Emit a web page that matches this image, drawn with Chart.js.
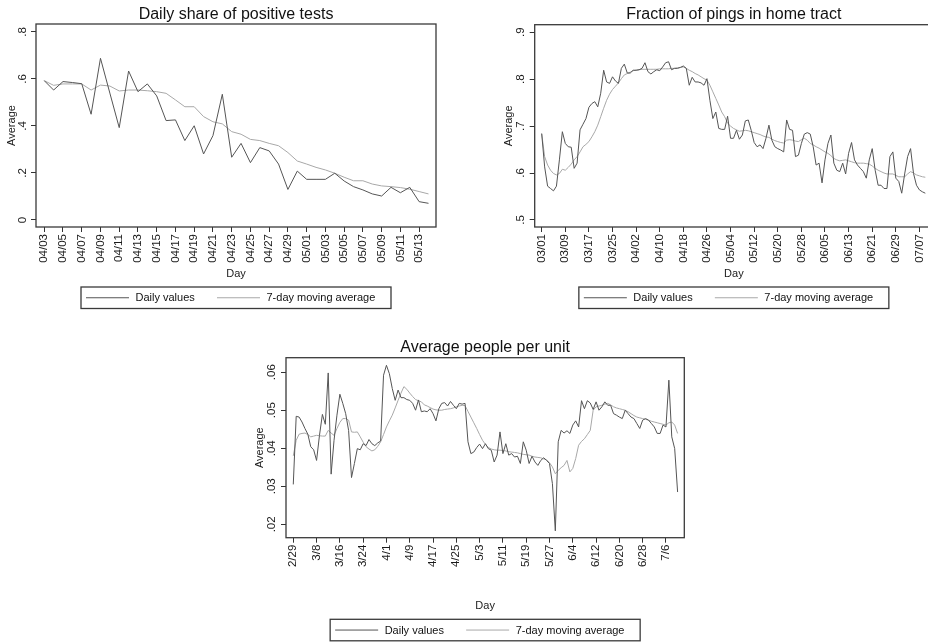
<!DOCTYPE html>
<html>
<head>
<meta charset="utf-8">
<script src="https://cdn.jsdelivr.net/npm/chart.js@4.4.1/dist/chart.umd.min.js"></script>
<style>
  html, body { margin: 0; padding: 0; background: #fff; overflow: hidden; width: 928px; height: 643px; }
  canvas { position: absolute; }
  #posChart { left: 0; top: 0; }
  #homeChart { left: 465px; top: 0; }
  #unitChart { left: 230px; top: 315px; }
</style>
</head>
<body>
<canvas id="posChart" width="462" height="312"></canvas>
<canvas id="homeChart" width="480" height="312"></canvas>
<canvas id="unitChart" width="480" height="328"></canvas>
<script>
// Daily share of positive tests, 04/03 - 05/14
const posDaily = [0.593, 0.553, 0.589, 0.585, 0.580, 0.450, 0.688, 0.540, 0.393, 0.634,
  0.546, 0.579, 0.528, 0.423, 0.426, 0.338, 0.401, 0.281, 0.359, 0.535,
  0.267, 0.326, 0.244, 0.308, 0.294, 0.238, 0.130, 0.208, 0.173, 0.173,
  0.173, 0.199, 0.166, 0.142, 0.128, 0.111, 0.102, 0.139, 0.116, 0.139,
  0.078, 0.071];
const posAvg = [0.593, 0.573, 0.579, 0.579, 0.579, 0.553, 0.574, 0.570, 0.549, 0.553,
  0.553, 0.550, 0.546, 0.539, 0.511, 0.482, 0.482, 0.440, 0.418, 0.409,
  0.376, 0.365, 0.343, 0.338, 0.326, 0.316, 0.287, 0.251, 0.238, 0.224,
  0.213, 0.199, 0.182, 0.167, 0.167, 0.153, 0.145, 0.142, 0.138, 0.131,
  0.121, 0.111];
const posDays = ['04/03', '04/05', '04/07', '04/09', '04/11', '04/13', '04/15', '04/17', '04/19', '04/21',
  '04/23', '04/25', '04/27', '04/29', '05/01', '05/03', '05/05', '05/07', '05/09', '05/11', '05/13'];
const posYTicks = [0, 0.2, 0.4, 0.6, 0.8];
const posYLabels = ['0', '.2', '.4', '.6', '.8'];

// Fraction of pings in home tract, 03/01 - 07/09
const homeDaily = [0.684, 0.613, 0.572, 0.567, 0.562, 0.572, 0.628, 0.688, 0.663, 0.656,
  0.655, 0.610, 0.621, 0.692, 0.704, 0.716, 0.740, 0.748, 0.752, 0.741,
  0.770, 0.819, 0.794, 0.791, 0.805, 0.796, 0.791, 0.823, 0.832, 0.813,
  0.813, 0.819, 0.819, 0.820, 0.823, 0.835, 0.816, 0.811, 0.816, 0.820,
  0.818, 0.826, 0.835, 0.837, 0.820, 0.823, 0.823, 0.825, 0.828, 0.823,
  0.787, 0.804, 0.794, 0.794, 0.792, 0.787, 0.801, 0.755, 0.716, 0.730,
  0.695, 0.693, 0.693, 0.721, 0.674, 0.674, 0.691, 0.672, 0.681, 0.711,
  0.713, 0.691, 0.665, 0.656, 0.660, 0.652, 0.674, 0.702, 0.670, 0.656,
  0.652, 0.649, 0.645, 0.713, 0.693, 0.691, 0.635, 0.638, 0.663, 0.683,
  0.686, 0.683, 0.656, 0.617, 0.621, 0.579, 0.628, 0.663, 0.681, 0.621,
  0.606, 0.603, 0.621, 0.598, 0.642, 0.665, 0.628, 0.617, 0.610, 0.603,
  0.589, 0.628, 0.652, 0.606, 0.574, 0.574, 0.567, 0.567, 0.635, 0.645,
  0.589, 0.582, 0.557, 0.598, 0.635, 0.652, 0.599, 0.574, 0.564, 0.560,
  0.557];
const homeAvg = [0.684, 0.635, 0.617, 0.606, 0.599, 0.596, 0.599, 0.608, 0.606, 0.612,
  0.619, 0.628, 0.635, 0.645, 0.656, 0.661, 0.667, 0.677, 0.688, 0.702,
  0.720, 0.738, 0.755, 0.768, 0.778, 0.785, 0.792, 0.801, 0.809, 0.812,
  0.815, 0.818, 0.819, 0.820, 0.821, 0.821, 0.821, 0.821, 0.821, 0.821,
  0.822, 0.822, 0.822, 0.822, 0.823, 0.823, 0.824, 0.825, 0.826, 0.823,
  0.819, 0.816, 0.812, 0.809, 0.805, 0.801, 0.798, 0.787, 0.773, 0.759,
  0.745, 0.730, 0.720, 0.706, 0.700, 0.695, 0.692, 0.689, 0.690, 0.691,
  0.690, 0.688, 0.686, 0.684, 0.682, 0.679, 0.677, 0.676, 0.672, 0.669,
  0.667, 0.665, 0.664, 0.670, 0.671, 0.670, 0.668, 0.667, 0.671, 0.674,
  0.670, 0.663, 0.660, 0.656, 0.653, 0.649, 0.645, 0.642, 0.637, 0.631,
  0.628, 0.626, 0.627, 0.628, 0.626, 0.624, 0.622, 0.621, 0.621, 0.621,
  0.620, 0.619, 0.615, 0.610, 0.606, 0.603, 0.600, 0.598, 0.598, 0.598,
  0.595, 0.592, 0.592, 0.592, 0.598, 0.603, 0.600, 0.596, 0.594, 0.592,
  0.591];
const homeDays = ['03/01', '03/09', '03/17', '03/25', '04/02', '04/10', '04/18', '04/26', '05/04',
  '05/12', '05/20', '05/28', '06/05', '06/13', '06/21', '06/29', '07/07'];
const homeYTicks = [0.5, 0.6, 0.7, 0.8, 0.9];
const homeYLabels = ['.5', '.6', '.7', '.8', '.9'];

// Average people per unit, 2/29 - 7/10
const unitDaily = [0.0305, 0.0484, 0.0482, 0.0469, 0.0452, 0.0437, 0.0404, 0.0396, 0.0368, 0.0434,
  0.0489, 0.0463, 0.0598, 0.0332, 0.0421, 0.0487, 0.0542, 0.0518, 0.0491, 0.0447,
  0.0323, 0.0360, 0.0399, 0.0396, 0.0412, 0.0407, 0.0423, 0.0412, 0.0407, 0.0414,
  0.0419, 0.0592, 0.0618, 0.0596, 0.0557, 0.0526, 0.0553, 0.0533, 0.0533, 0.0528,
  0.0526, 0.0518, 0.0500, 0.0527, 0.0496, 0.0498, 0.0496, 0.0504, 0.0491, 0.0472,
  0.0504, 0.0518, 0.0520, 0.0511, 0.0523, 0.0513, 0.0504, 0.0518, 0.0516, 0.0518,
  0.0417, 0.0386, 0.0390, 0.0402, 0.0411, 0.0399, 0.0412, 0.0399, 0.0395, 0.0364,
  0.0382, 0.0443, 0.0386, 0.0412, 0.0382, 0.0386, 0.0377, 0.0379, 0.0360, 0.0417,
  0.0395, 0.0360, 0.0379, 0.0364, 0.0355, 0.0368, 0.0375, 0.0368, 0.0360, 0.0307,
  0.0183, 0.0417, 0.0447, 0.0440, 0.0446, 0.0439, 0.0461, 0.0472, 0.0456, 0.0525,
  0.0504, 0.0525, 0.0519, 0.0502, 0.0522, 0.0500, 0.0509, 0.0522, 0.0513, 0.0513,
  0.0491, 0.0487, 0.0482, 0.0478, 0.0500, 0.0491, 0.0482, 0.0478, 0.0465, 0.0452,
  0.0474, 0.0478, 0.0474, 0.0465, 0.0456, 0.0439, 0.0439, 0.0461, 0.0456, 0.0579,
  0.0430, 0.0399, 0.0285];
const unitAvg = [0.0380, 0.0421, 0.0437, 0.0439, 0.0440, 0.0436, 0.0430, 0.0432, 0.0434, 0.0433,
  0.0432, 0.0432, 0.0447, 0.0440, 0.0434, 0.0452, 0.0468, 0.0478, 0.0478, 0.0474,
  0.0443, 0.0442, 0.0443, 0.0430, 0.0416, 0.0404, 0.0398, 0.0393, 0.0396, 0.0405,
  0.0417, 0.0436, 0.0456, 0.0472, 0.0487, 0.0506, 0.0526, 0.0545, 0.0562, 0.0555,
  0.0545, 0.0536, 0.0528, 0.0525, 0.0522, 0.0514, 0.0511, 0.0507, 0.0503, 0.0501,
  0.0500, 0.0500, 0.0502, 0.0503, 0.0504, 0.0506, 0.0509, 0.0511, 0.0513, 0.0512,
  0.0497, 0.0482, 0.0467, 0.0452, 0.0436, 0.0421, 0.0410, 0.0402, 0.0398, 0.0396,
  0.0395, 0.0395, 0.0394, 0.0393, 0.0391, 0.0390, 0.0389, 0.0388, 0.0386, 0.0384,
  0.0383, 0.0382, 0.0379, 0.0377, 0.0376, 0.0375, 0.0372, 0.0370, 0.0362, 0.0351,
  0.0333, 0.0342, 0.0349, 0.0355, 0.0368, 0.0338, 0.0347, 0.0373, 0.0408, 0.0418,
  0.0425, 0.0436, 0.0447, 0.0500, 0.0509, 0.0511, 0.0513, 0.0516, 0.0518, 0.0514,
  0.0509, 0.0506, 0.0504, 0.0502, 0.0500, 0.0496, 0.0491, 0.0486, 0.0482, 0.0480,
  0.0478, 0.0476, 0.0474, 0.0471, 0.0469, 0.0467, 0.0465, 0.0463, 0.0461, 0.0467,
  0.0469, 0.0461, 0.0439];
const unitDays = ['2/29', '3/8', '3/16', '3/24', '4/1', '4/9', '4/17', '4/25', '5/3',
  '5/11', '5/19', '5/27', '6/4', '6/12', '6/20', '6/28', '7/6'];
const unitYTicks = [0.02, 0.03, 0.04, 0.05, 0.06];
const unitYLabels = ['.02', '.03', '.04', '.05', '.06'];

const seriesNames = ['Daily values', '7-day moving average'];

const FONT = '"Liberation Sans", Arial, Helvetica, sans-serif';
Chart.defaults.font.family = FONT;
Chart.defaults.color = '#1a1a1a';

// Stata-like panel: outline around the plot region, title on top, boxed legend below
const stataPanel = {
  id: 'stataPanel',
  afterDraw(chart, args, opts) {
    const { ctx, chartArea: a } = chart;
    const cx = (a.left + a.right) / 2;
    ctx.save();
    ctx.strokeStyle = '#3a3a3a';
    ctx.lineWidth = 1.3;
    ctx.strokeRect(a.left, a.top, a.right - a.left, a.bottom - a.top);

    ctx.fillStyle = '#111';
    ctx.font = '16px ' + FONT;
    ctx.textAlign = 'center';
    ctx.textBaseline = 'alphabetic';
    ctx.fillText(opts.title, cx, opts.titleY);

    const bw = 310, bh = 21.5;
    const bx = cx - bw / 2, by = opts.legendY;
    ctx.strokeRect(bx, by, bw, bh);
    const my = by + bh / 2;
    chart.data.datasets.forEach((ds, i) => {
      const lx = bx + (i === 0 ? 5 : 136);
      ctx.strokeStyle = ds.borderColor;
      ctx.lineWidth = 1;
      ctx.beginPath();
      ctx.moveTo(lx, my);
      ctx.lineTo(lx + 43, my);
      ctx.stroke();
      ctx.fillStyle = '#111';
      ctx.font = '11px ' + FONT;
      ctx.textAlign = 'left';
      ctx.textBaseline = 'middle';
      ctx.fillText(ds.label, lx + 49.5, my + 0.5);
    });
    ctx.restore();
  }
};

function toPoints(values) {
  return values.map((v, i) => ({ x: i, y: v }));
}

function makePanel(id, p) {
  const ctx = document.getElementById(id).getContext('2d');
  return new Chart(ctx, {
    type: 'line',
    data: {
      datasets: [{
        label: seriesNames[0],
        data: toPoints(p.daily),
        borderColor: '#555555',
        borderWidth: 1,
        pointRadius: 0,
        tension: 0
      }, {
        label: seriesNames[1],
        data: toPoints(p.avg),
        borderColor: '#a8a8a8',
        borderWidth: 1,
        pointRadius: 0,
        tension: 0
      }]
    },
    options: {
      responsive: false,
      animation: false,
      layout: { padding: p.padding },
      scales: {
        x: {
          type: 'linear',
          min: p.xMin,
          max: p.xMax,
          afterBuildTicks: s => { s.ticks = p.xLabels.map((_, i) => ({ value: i * p.xStep })); },
          afterFit: s => { s.height = p.xHeight; s.paddingLeft = 0; s.paddingRight = 0; },
          grid: { drawOnChartArea: false, tickLength: 5, tickColor: '#333', lineWidth: 1 },
          border: { display: false },
          ticks: {
            autoSkip: false,
            minRotation: 90,
            maxRotation: 90,
            padding: 2,
            font: { size: 11.5 },
            callback: (v, i) => p.xLabels[i]
          },
          title: { display: true, text: 'Day', font: { size: 11 }, padding: { top: 0, bottom: 0 } }
        },
        y: {
          min: p.yMin,
          max: p.yMax,
          afterBuildTicks: s => { s.ticks = p.yTicks.map(v => ({ value: v })); },
          afterFit: s => { s.width = 36; s.paddingTop = 0; s.paddingBottom = 0; },
          grid: { drawOnChartArea: false, tickLength: 5, tickColor: '#333', lineWidth: 1 },
          border: { display: false },
          ticks: {
            minRotation: 90,
            maxRotation: 90,
            crossAlign: 'center',
            padding: p.yTickPad,
            font: { size: 11.5 },
            callback: (v, i) => p.yLabels[i]
          },
          title: { display: true, text: 'Average', font: { size: 11 }, padding: { top: p.yTitlePad, bottom: 0 } }
        }
      },
      plugins: {
        legend: { display: false },
        tooltip: { enabled: false },
        stataPanel: { title: p.title, titleY: p.titleY, legendY: p.legendY }
      }
    },
    plugins: [stataPanel]
  });
}

makePanel('posChart', {
  title: 'Daily share of positive tests',
  daily: posDaily, avg: posAvg,
  xLabels: posDays, xStep: 2, xMin: -0.88, xMax: 41.8,
  yTicks: posYTicks, yLabels: posYLabels, yMin: -0.0298, yMax: 0.834,
  padding: { left: 0, top: 24, right: 26, bottom: 31 },
  xHeight: 54, yTickPad: 3, yTitlePad: 5.1,
  titleY: 19, legendY: 287
});

makePanel('homeChart', {
  title: 'Fraction of pings in home tract',
  daily: homeDaily, avg: homeAvg,
  xLabels: homeDays, xStep: 8, xMin: -2.37, xMax: 132.6,
  yTicks: homeYTicks, yLabels: homeYLabels, yMin: 0.485, yMax: 0.916,
  padding: { left: 33.7, top: 24.7, right: 12, bottom: 31 },
  xHeight: 54, yTickPad: 3.9, yTitlePad: 3.5,
  titleY: 19, legendY: 287
});

makePanel('unitChart', {
  title: 'Average people per unit',
  daily: unitDaily, avg: unitAvg,
  xLabels: unitDays, xStep: 8, xMin: -2.5, xMax: 134.3,
  yTicks: unitYTicks, yLabels: unitYLabels, yMin: 0.0165, yMax: 0.0638,
  padding: { left: 20, top: 42.7, right: 25.7, bottom: 30.4 },
  xHeight: 74.9, yTickPad: 1, yTitlePad: 3.4,
  titleY: 37, legendY: 304.3
});
</script>
</body>
</html>
